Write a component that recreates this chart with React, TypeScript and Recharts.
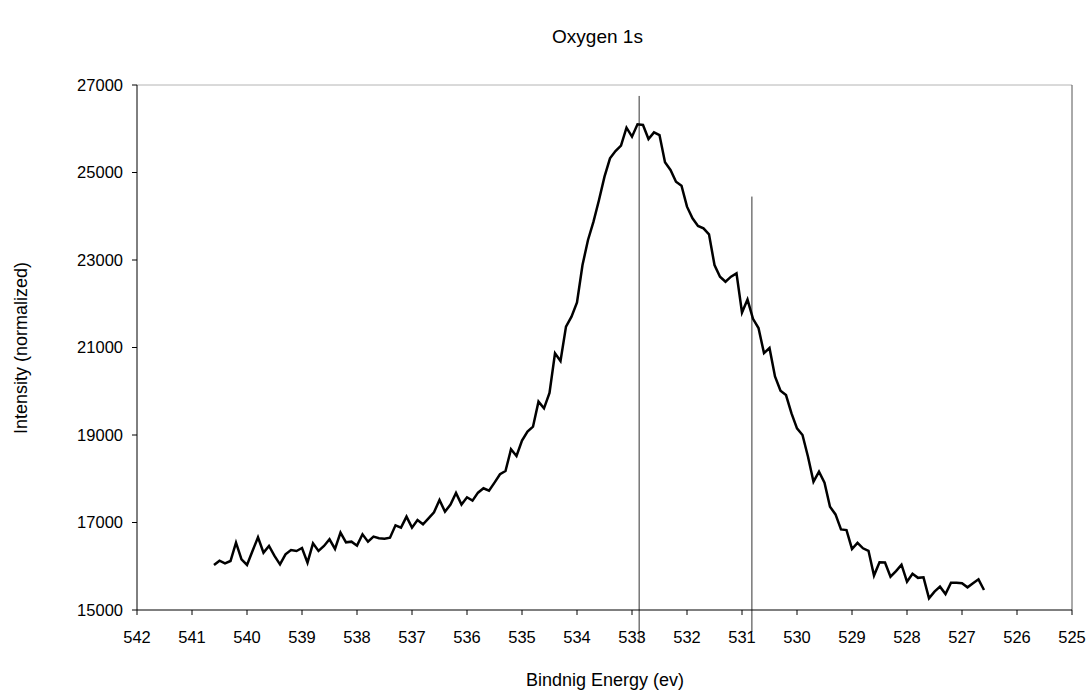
import React from "react";
import { LineChart, Line, XAxis, YAxis, ReferenceLine } from "recharts";

// O 1s spectrum, 0.1 eV steps (binding energy, eV)
const bindingEnergy = [
  540.6, 540.5, 540.4, 540.3, 540.2, 540.1, 540.0, 539.9, 539.8, 539.7,
  539.6, 539.5, 539.4, 539.3, 539.2, 539.1, 539.0, 538.9, 538.8, 538.7,
  538.6, 538.5, 538.4, 538.3, 538.2, 538.1, 538.0, 537.9, 537.8, 537.7,
  537.6, 537.5, 537.4, 537.3, 537.2, 537.1, 537.0, 536.9, 536.8, 536.7,
  536.6, 536.5, 536.4, 536.3, 536.2, 536.1, 536.0, 535.9, 535.8, 535.7,
  535.6, 535.5, 535.4, 535.3, 535.2, 535.1, 535.0, 534.9, 534.8, 534.7,
  534.6, 534.5, 534.4, 534.3, 534.2, 534.1, 534.0, 533.9, 533.8, 533.7,
  533.6, 533.5, 533.4, 533.3, 533.2, 533.1, 533.0, 532.9, 532.8, 532.7,
  532.6, 532.5, 532.4, 532.3, 532.2, 532.1, 532.0, 531.9, 531.8, 531.7,
  531.6, 531.5, 531.4, 531.3, 531.2, 531.1, 531.0, 530.9, 530.8, 530.7,
  530.6, 530.5, 530.4, 530.3, 530.2, 530.1, 530.0, 529.9, 529.8, 529.7,
  529.6, 529.5, 529.4, 529.3, 529.2, 529.1, 529.0, 528.9, 528.8, 528.7,
  528.6, 528.5, 528.4, 528.3, 528.2, 528.1, 528.0, 527.9, 527.8, 527.7,
  527.6, 527.5, 527.4, 527.3, 527.2, 527.1, 527.0, 526.9, 526.8, 526.7,
  526.6,
];

// counts, normalized
const intensity = [
  16030, 16128, 16067, 16120, 16540, 16158, 16029, 16350, 16661, 16311,
  16463, 16235, 16044, 16273, 16372, 16349, 16418, 16082, 16524, 16349,
  16463, 16616, 16395, 16768, 16547, 16562, 16471, 16730, 16562, 16677,
  16639, 16631, 16654, 16936, 16882, 17134, 16882, 17058, 16959, 17096,
  17233, 17515, 17248, 17410, 17675, 17410, 17576, 17500, 17682, 17782,
  17728, 17911, 18102, 18178, 18673, 18521, 18871, 19077, 19191, 19763,
  19610, 19960, 20866, 20691, 21476, 21704, 22032, 22885, 23457, 23876,
  24371, 24905, 25324, 25491, 25613, 26025, 25819, 26101, 26086, 25766,
  25918, 25857, 25232, 25057, 24790, 24699, 24219, 23952, 23780, 23723,
  23586, 22885, 22619, 22504, 22619, 22695, 21800, 22095, 21655, 21445,
  20873, 20988, 20340, 20012, 19913, 19494, 19151, 18999, 18504, 17932,
  18161, 17909, 17361, 17185, 16843, 16827, 16395, 16535, 16410, 16352,
  15788, 16093, 16085, 15761, 15888, 16035, 15647, 15830, 15735, 15747,
  15267, 15420, 15534, 15366, 15625, 15625, 15610, 15518, 15610, 15701,
  15458,
];

const energyTicks = [
  542, 541, 540, 539, 538, 537, 536, 535, 534, 533, 532, 531, 530, 529, 528,
  527, 526, 525,
];
const intensityTicks = [15000, 17000, 19000, 21000, 23000, 25000, 27000];

// peak markers: position, top and bottom of each drop line
const peakEnergy = [532.87, 530.82];
const peakTop = [26750, 24450];
const peakBottom = [14250, 14500];

const FONT = "'Liberation Sans', Arial, sans-serif";

const spectrum = bindingEnergy.map((e, i) => ({ energy: e, intensity: intensity[i] }));

export default function App() {
  return (
    <div style={{ position: "relative", width: 1090, height: 699, background: "#fff", fontFamily: FONT }}>
      <style>{`body { margin: 0; }`}</style>
      <div
        style={{
          position: "absolute",
          left: 0,
          width: 1195,
          top: 26,
          textAlign: "center",
          fontSize: 19,
          color: "#000",
        }}
      >
        Oxygen 1s
      </div>
      <LineChart
        width={1090}
        height={699}
        data={spectrum}
        margin={{ top: 85, right: 18, bottom: 59, left: 0 }}
      >
        <XAxis
          dataKey="energy"
          type="number"
          domain={[525, 542]}
          ticks={energyTicks}
          reversed
          allowDataOverflow
          height={30}
          tickSize={5}
          tickMargin={16}
          stroke="#000"
          tick={{ fill: "#000", fontSize: 16.5, fontFamily: FONT }}
        />
        <YAxis
          type="number"
          domain={[15000, 27000]}
          ticks={intensityTicks}
          allowDataOverflow
          width={137}
          tickSize={5}
          tickMargin={9}
          stroke="#000"
          tick={{ fill: "#000", fontSize: 16.5, fontFamily: FONT }}
        />
        <ReferenceLine y={27000} stroke="#b4b4b4" strokeWidth={1} />
        <ReferenceLine x={525} stroke="#555" strokeWidth={1} />
        {peakEnergy.map((e, i) => (
          <ReferenceLine
            key={e}
            ifOverflow="visible"
            segment={[
              { x: e, y: peakBottom[i] },
              { x: e, y: peakTop[i] },
            ]}
            stroke="#333"
            strokeWidth={1}
          />
        ))}
        <Line
          dataKey="intensity"
          type="linear"
          stroke="#000"
          strokeWidth={2.5}
          dot={false}
          isAnimationActive={false}
        />
      </LineChart>
      <div
        style={{
          position: "absolute",
          left: 0,
          width: 1210,
          top: 670,
          textAlign: "center",
          fontSize: 18,
          color: "#000",
        }}
      >
        Bindnig Energy (ev)
      </div>
      <div
        style={{
          position: "absolute",
          left: 21,
          top: 348,
          transform: "translate(-50%, -50%) rotate(-90deg)",
          whiteSpace: "nowrap",
          fontSize: 18,
          color: "#000",
        }}
      >
        Intensity (normalized)
      </div>
    </div>
  );
}
